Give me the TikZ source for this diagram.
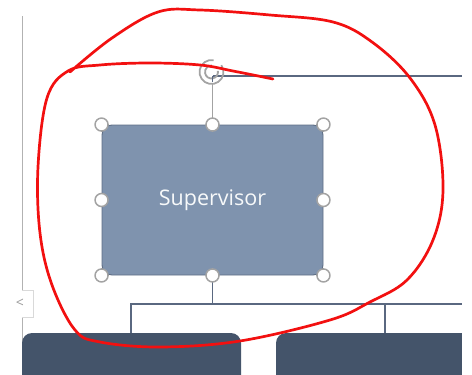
\documentclass[tikz,border=0pt]{standalone}
\usepackage{fontspec}
\setmainfont{Open Sans}
\definecolor{sup}{HTML}{7F93AE}
\definecolor{supline}{HTML}{5E6E84}
\definecolor{dark}{HTML}{44546A}
\definecolor{handle}{HTML}{A3A3A3}
\definecolor{conn}{HTML}{5A6880}
\definecolor{redpen}{HTML}{F21010}
\tikzset{
  handlec/.style={circle, draw=handle, fill=white, line width=1.5pt, minimum size=13pt, inner sep=0pt},
  conline/.style={draw=conn, line width=1.2pt},
  darkbox/.style={fill=dark, rounded corners=10pt},
}
\begin{document}
\begin{tikzpicture}[x=1pt,y=-1pt]
\useasboundingbox (0,0) rectangle (472,375);
% left ruler line and tab
\draw[draw=black!30, line width=1pt] (22,16) -- (22,375);
\draw[draw=black!15, fill=white, line width=0.8pt] (22,290) -- (33,290) -- (33,317) -- (22,317);
\node[text=black!40, font=\fontsize{14}{14}\selectfont, anchor=east, inner sep=0pt] (tab) at (24,303) {<};
% dark boxes at bottom
\fill[darkbox] (22,333) rectangle (241,395);
\fill[darkbox] (276,333) rectangle (480,395);
\fill[white] (462,280) rectangle (472,375);
\coordinate (c1) at (131,333);
\coordinate (c2) at (385,333);
% supervisor box
\node[draw=supline, fill=sup, line width=0.9pt, rounded corners=10pt, minimum width=221pt, minimum height=150pt, text=white!94!sup, font=\fontsize{21.5}{21.5}\selectfont] (s) at (212.5,200) {Supervisor};
% connectors
\coordinate (top) at (212.5,76);
\coordinate (topR) at (462,76);
\draw[conline] (top) -- (topR);
\coordinate (bus) at (212.5,304);
\draw[conline] (s.south) -- (bus);
\draw[conline] (c1) |- (bus) -| (c2);
\draw[conline] (bus) -- (462,304);
% rotation handle
\coordinate (rot) at (211.5,72);
\draw[draw=handle, line width=1.8pt] (rot) ++(-35:12) arc[start angle=-35, end angle=280, radius=12];
\draw[draw=handle, line width=1.8pt] (rot) ++(-10:6.5) arc[start angle=-10, end angle=275, radius=6.5];
\draw[draw=conn, line width=1.2pt] (212.5,82) -- (212.5,76);
\draw[draw=handle, line width=1pt] (212.5,84) -- (s.north);
% handles
\foreach \a/\n in {north west/h1, north/h2, north east/h3, west/h4, east/h5, south west/h6, south/h7, south east/h8}
  \node[handlec] (\n) at (s.\a) {};
% red hand drawn loop
\draw[redpen, line width=2.7pt, line cap=round, line join=round] plot[smooth, tension=0.6] coordinates {
 (273,79) (233,71) (200,65) (150,63) (100,65) (68,71) (47,98) (38,167) (40,233) (52,285)
 (75,330) (100,342) (160,347) (240,341) (330,320) (370,302) (407,280) (433,240) (443,190)
 (435,125) (410,78) (372,42) (333,22) (270,15) (200,10) (158,12) (112,38) (70,72)};
\end{tikzpicture}
\end{document}
